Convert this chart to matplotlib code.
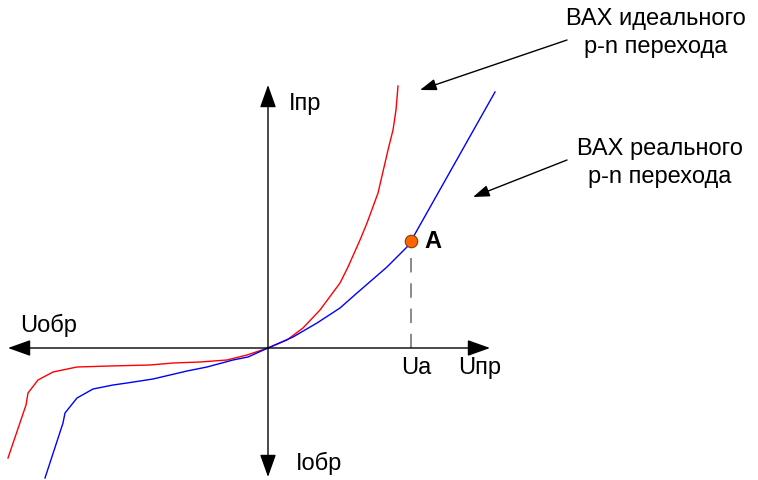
import matplotlib.pyplot as plt

plt.rcParams['font.family'] = ['Liberation Sans', 'DejaVu Sans']

# curves, in pixel coordinates (x right, y down)
red_x = [8, 26, 28, 38, 53, 77, 110, 150, 173, 200, 227, 247, 268,
         287, 303, 320, 340, 348, 360, 367, 378, 385, 388, 393, 396, 398]
red_y = [458, 405, 393, 380, 372, 367, 366, 365, 363, 362, 360, 355, 348,
         340, 328, 310, 283, 267, 240, 223, 193, 163, 150, 130, 110, 86]

blue_x = [45, 63, 65, 77, 93, 113, 127, 153, 187, 207, 233, 248, 268,
          293, 317, 340, 357, 387, 407, 411, 495]
blue_y = [478, 423, 413, 398, 389, 385, 383, 379, 371, 367, 360, 357, 348,
          337, 323, 308, 293, 267, 247, 241, 92]

point_a = (411, 241)
origin = (268, 348)

fig = plt.figure(figsize=(7.58, 4.80), dpi=100)
ax = fig.add_axes([0, 0, 1, 1])
ax.set_xlim(0, 758)
ax.set_ylim(480, 0)
ax.axis('off')

arrow = dict(arrowstyle='-|>,head_length=1.4,head_width=0.5', color='black',
             lw=1.0, shrinkA=0, shrinkB=0)
# axes with arrowheads
ax.annotate('', xy=(490, origin[1]), xytext=(origin[0], origin[1]), arrowprops=arrow)
ax.annotate('', xy=(8, origin[1]), xytext=(origin[0], origin[1]), arrowprops=arrow)
ax.annotate('', xy=(origin[0], 85), xytext=(origin[0], origin[1]), arrowprops=arrow)
ax.annotate('', xy=(origin[0], 477), xytext=(origin[0], origin[1]), arrowprops=arrow)

ax.plot(red_x, red_y, color='#ff0000', lw=1.0)
ax.plot(blue_x, blue_y, color='#0000ff', lw=1.0)

ax.plot([point_a[0], point_a[0]], [258, origin[1]], color='#808080', lw=1.3,
        dashes=(8, 6))
ax.plot(*point_a, 'o', ms=9, mfc='#ff6600', mec='#804000', mew=0.8, zorder=5)
ax.text(424, 242, 'A', fontsize=17, fontweight='bold', va='center', ha='left')

fs = 17
ax.text(289, 104, 'Iпр', fontsize=fs, va='center', ha='left')
ax.text(296, 463, 'Iобр', fontsize=fs, va='center', ha='left')
ax.text(20, 325, 'Uобр', fontsize=fs, va='center', ha='left')
ax.text(401, 368, 'Ua', fontsize=fs, va='center', ha='left')
ax.text(458, 368, 'Uпр', fontsize=fs, va='center', ha='left')

ax.text(656, 33, 'ВАХ идеального\np-n перехода', fontsize=fs, va='center',
        ha='center', multialignment='center', linespacing=1.35)
ax.text(660, 163, 'ВАХ реального\np-n перехода', fontsize=fs, va='center',
        ha='center', multialignment='center', linespacing=1.35)

small = dict(arrowstyle='-|>,head_length=1.0,head_width=0.35', color='black',
             lw=1.0, shrinkA=0, shrinkB=0)
ax.annotate('', xy=(420, 90), xytext=(567, 40), arrowprops=small)
ax.annotate('', xy=(473, 197), xytext=(567, 160), arrowprops=small)

fig.savefig('out.png', dpi=100)
